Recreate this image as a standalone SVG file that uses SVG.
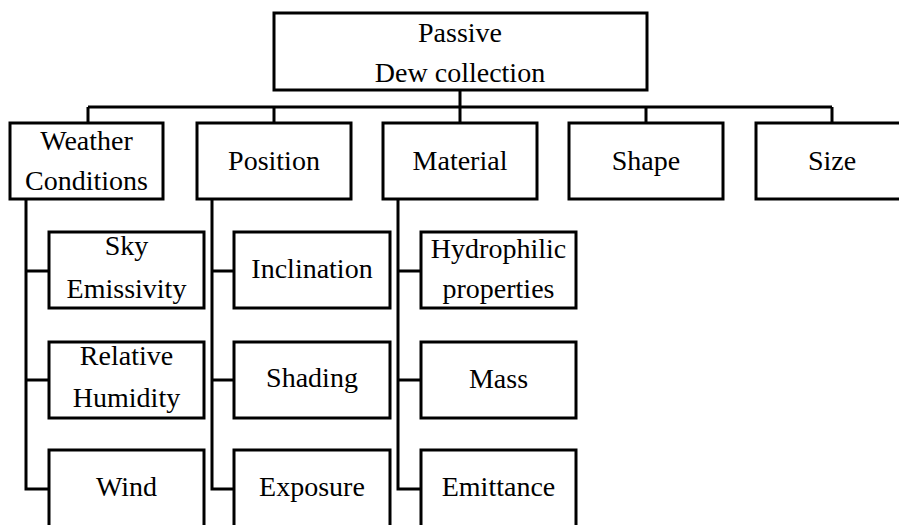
<svg xmlns="http://www.w3.org/2000/svg" width="899" height="525" viewBox="0 0 899 525">
<style>
.box{fill:#fff;stroke:#000;stroke-width:3}
.ln{fill:none;stroke:#000;stroke-width:3}
text{font-family:'Times New Roman',Times,'Liberation Serif','Nimbus Roman','DejaVu Serif',serif;font-size:28px;fill:#000;text-anchor:middle}
</style>
<rect width="899" height="525" fill="#fff"/>
<g id="connectors">
<path class="ln" d="M460 90V107M88 107H832M88 107V123M274 107V123M460 107V123M646 107V123M832 107V123"/>
<path class="ln" d="M26 199V489H49M26 271H49M26 380H49"/>
<path class="ln" d="M212 199V489H234M212 271H234M212 380H234"/>
<path class="ln" d="M398 199V489H421M398 271H421M398 380H421"/>
</g>
<g id="root"><rect class="box" x="274" y="13" width="373" height="77"/><text x="460" y="42">Passive</text><text x="460" y="82">Dew collection</text></g>
<g id="weather"><rect class="box" x="10" y="123" width="153" height="76"/><text x="86.5" y="150">Weather</text><text x="86.5" y="190">Conditions</text></g>
<g id="position"><rect class="box" x="197" y="123" width="154" height="76"/><text x="274" y="170">Position</text></g>
<g id="material"><rect class="box" x="383" y="123" width="154" height="76"/><text x="460" y="170">Material</text></g>
<g id="shape"><rect class="box" x="569" y="123" width="154" height="76"/><text x="646" y="170">Shape</text></g>
<g id="size"><rect class="box" x="756" y="123" width="154" height="76"/><text x="832" y="170">Size</text></g>
<g id="sky"><rect class="box" x="49" y="232" width="155" height="76"/><text x="126.5" y="255">Sky</text><text x="126.5" y="298">Emissivity</text></g>
<g id="humidity"><rect class="box" x="49" y="342" width="155" height="76"/><text x="126.5" y="365">Relative</text><text x="126.5" y="407">Humidity</text></g>
<g id="wind"><rect class="box" x="49" y="450" width="155" height="85"/><text x="126.5" y="496">Wind</text></g>
<g id="inclination"><rect class="box" x="234" y="232" width="156" height="76"/><text x="312" y="278">Inclination</text></g>
<g id="shading"><rect class="box" x="234" y="342" width="156" height="76"/><text x="312" y="387">Shading</text></g>
<g id="exposure"><rect class="box" x="234" y="450" width="156" height="85"/><text x="312" y="496">Exposure</text></g>
<g id="hydrophilic"><rect class="box" x="421" y="232" width="155" height="76"/><text x="498.5" y="258">Hydrophilic</text><text x="498.5" y="298">properties</text></g>
<g id="mass"><rect class="box" x="421" y="342" width="155" height="76"/><text x="498.5" y="388">Mass</text></g>
<g id="emittance"><rect class="box" x="421" y="450" width="155" height="85"/><text x="498.5" y="496">Emittance</text></g>
</svg>
